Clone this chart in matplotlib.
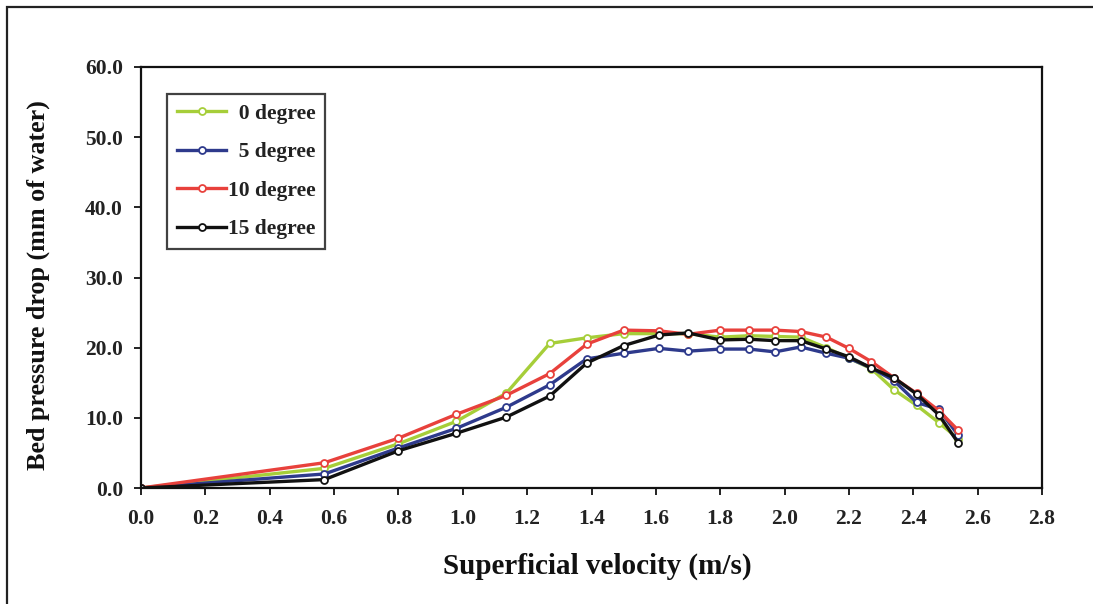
import matplotlib
matplotlib.use("Agg")
import matplotlib.pyplot as plt
from matplotlib.patches import Rectangle

# ---- data ----
velocity = [0.0, 0.57, 0.80, 0.98, 1.135, 1.27, 1.385, 1.50, 1.61, 1.70,
            1.80, 1.89, 1.97, 2.05, 2.13, 2.20, 2.27, 2.34, 2.41, 2.48, 2.54]

deg0 = [0.0, 2.8, 6.3, 9.5, 13.5, 20.6, 21.4, 22.0, 22.0, 22.0,
        21.5, 21.7, 21.6, 21.5, 20.0, 18.5, 17.0, 14.0, 11.8, 9.3, 7.0]
deg5 = [0.0, 2.0, 5.7, 8.5, 11.5, 14.7, 18.4, 19.2, 19.9, 19.5,
        19.8, 19.8, 19.4, 20.1, 19.2, 18.5, 17.1, 15.3, 12.2, 11.2, 7.5]
deg10 = [0.0, 3.6, 7.1, 10.5, 13.2, 16.3, 20.5, 22.5, 22.4, 21.9,
         22.5, 22.5, 22.5, 22.3, 21.5, 19.9, 18.0, 15.7, 13.5, 11.0, 8.2]
deg15 = [0.0, 1.2, 5.3, 7.8, 10.1, 13.1, 17.8, 20.3, 21.8, 22.1,
         21.1, 21.2, 21.0, 21.0, 19.8, 18.7, 17.1, 15.7, 13.4, 10.4, 6.4]

series_labels = ["0 degree", "5 degree", "10 degree", "15 degree"]
series_colors = ["#A6CE39", "#2E3A8C", "#E8413C", "#111111"]

x_ticks = [0.0, 0.2, 0.4, 0.6, 0.8, 1.0, 1.2, 1.4, 1.6, 1.8, 2.0, 2.2, 2.4, 2.6, 2.8]
y_ticks = [0.0, 10.0, 20.0, 30.0, 40.0, 50.0, 60.0]

x_label = "Superficial velocity (m/s)"
y_label = "Bed pressure drop (mm of water)"

# ---- figure ----
plt.rcParams['font.family'] = ['Liberation Serif', 'DejaVu Serif']
fig = plt.figure(figsize=(10.93, 6.04), dpi=100)
fig.patch.set_facecolor("white")

# outer chart border (only top and left visible in reference)
fig.patches.append(Rectangle((7 / 1093, -0.05), 1.2, 1 - 7 / 604 + 0.05,
                             transform=fig.transFigure, fill=False,
                             edgecolor="#222222", linewidth=1.6))

ax = fig.add_axes([141 / 1093, 1 - 488 / 604, (1042 - 141) / 1093, (488 - 67) / 604])

all_series = [deg0, deg5, deg10, deg15]
for vals, lab, col in zip(all_series, series_labels, series_colors):
    disp = lab if len(lab.split()[0]) > 1 else "  " + lab
    ax.plot(velocity, vals, color=col, linewidth=2.4, marker="o", markersize=5,
            markerfacecolor="white", markeredgecolor=col, markeredgewidth=1.3,
            label=disp)

ax.set_xlim(0, 2.8)
ax.set_ylim(0, 60)
ax.set_xticks(x_ticks)
ax.set_yticks(y_ticks)
ax.set_xticklabels([f"{v:.1f}" for v in x_ticks])
ax.set_yticklabels([f"{v:.1f}" for v in y_ticks])

for sp in ax.spines.values():
    sp.set_color("#111111")
    sp.set_linewidth(1.6)

ax.tick_params(axis="both", direction="out", length=5, width=1.3,
               colors="#111111", labelsize=15.5)
ax.tick_params(axis="x", pad=10)
ax.tick_params(axis="y", pad=8)
for t in ax.get_xticklabels() + ax.get_yticklabels():
    t.set_fontweight("bold")
    t.set_color("#222222")

ax.set_xlabel(x_label, fontsize=21, fontweight="bold", color="#111111")
ax.set_ylabel(y_label, fontsize=18.8, fontweight="bold", color="#111111")
ax.xaxis.label.set_va("center")
ax.yaxis.label.set_va("center")
ax.xaxis.set_label_coords((597 - 141) / 901, (488 - 566) / 421)
ax.yaxis.set_label_coords((38 - 141) / 901, (488 - 285) / 421)

leg = ax.legend(loc="upper left", bbox_to_anchor=(0.029, 0.936), numpoints=1,
                frameon=True, fancybox=False, edgecolor="#111111",
                prop={"size": 15.5, "weight": "bold"}, handlelength=2.3,
                handletextpad=0.08, labelspacing=0.86, borderpad=0.45,
                borderaxespad=0)
leg.get_frame().set_linewidth(1.6)
for t in leg.get_texts():
    t.set_color("#222222")

fig.savefig("out.png", dpi=100)
